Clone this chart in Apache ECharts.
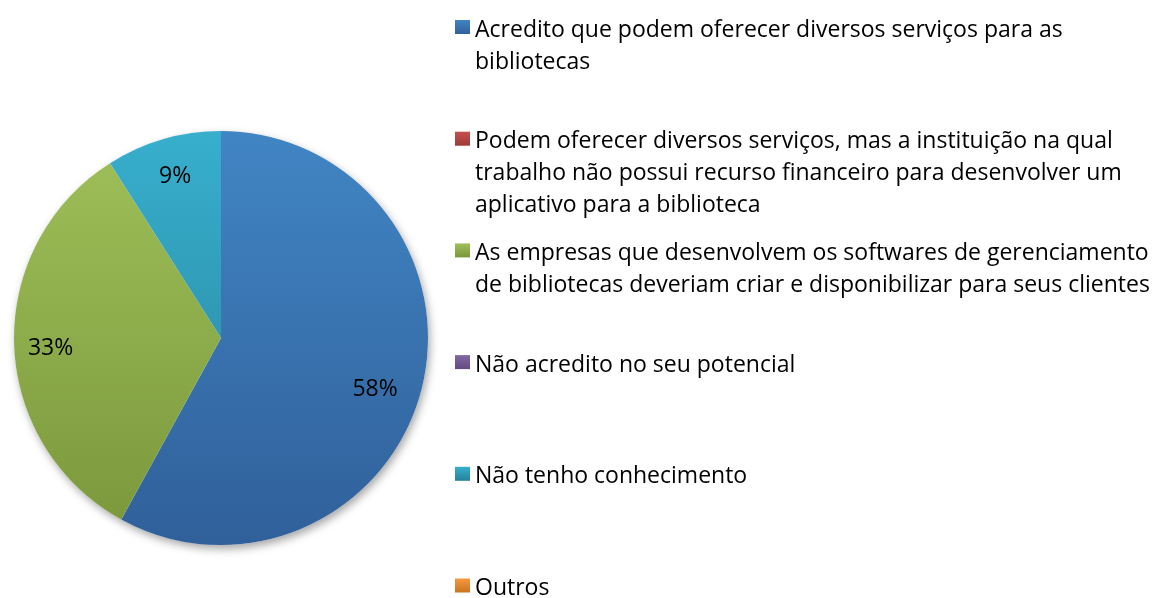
<!DOCTYPE html>
<html>
<head>
<meta charset="utf-8">
<style>html,body{margin:0;padding:0;width:1159px;height:598px;background:#fff;overflow:hidden;}#chart{width:1159px;height:598px;}</style>
<script src="https://cdn.jsdelivr.net/npm/echarts@6/dist/echarts.min.js"></script>
</head>
<body>
<div id="chart"></div>
<script>
// categories, values and the wrapped legend lines
var categories = [
  "Acredito que podem oferecer diversos serviços para as bibliotecas",
  "Podem oferecer diversos serviços, mas a instituição na qual trabalho não possui recurso financeiro para desenvolver um aplicativo para a biblioteca",
  "As empresas que desenvolvem os softwares de gerenciamento de bibliotecas deveriam criar e disponibilizar para seus clientes",
  "Não acredito no seu potencial",
  "Não tenho conhecimento",
  "Outros"
];
var values = [58, 0, 33, 0, 9, 0];
var legendLines = [
  ["Acredito que podem oferecer diversos serviços para as", "bibliotecas"],
  ["Podem oferecer diversos serviços, mas a instituição na qual", "trabalho não possui recurso financeiro para desenvolver um", "aplicativo para a biblioteca"],
  ["As empresas que desenvolvem os softwares de gerenciamento", "de bibliotecas deveriam criar e disponibilizar para seus clientes"],
  ["Não acredito no seu potencial"],
  ["Não tenho conhecimento"],
  ["Outros"]
];
var topColors = ["#4185c4", "#c5524f", "#9fc05a", "#8367a6", "#37afcd", "#f8973f"];
var bottomColors = ["#30609a", "#9c3a37", "#7a973b", "#634b82", "#27819a", "#c87520"];

var FONT = "Open Sans";
var FS = 23;
var LH = 32;
var SHIFT = 3; // text sits a little lower than the marker
var cx = 221, cy = 338, R = 207;

function pieGrad(i) {
  return {
    type: "linear", x: 0, y: cy - R, x2: 0, y2: cy + R, global: true,
    colorStops: [{ offset: 0, color: topColors[i] }, { offset: 1, color: bottomColors[i] }]
  };
}
function iconGrad(i) {
  return {
    type: "linear", x: 0, y: 0, x2: 0, y2: 1,
    colorStops: [{ offset: 0, color: topColors[i] }, { offset: 1, color: bottomColors[i] }]
  };
}

var pieData = categories.map(function (name, i) {
  return { name: name, value: values[i], itemStyle: { color: pieGrad(i) } };
});

// one legend per entry; filler lines in front keep the marker on the first line
var legends = categories.map(function (name, i) {
  var n = legendLines[i].length;
  var markerCenter = 27 + i * 111.7;
  var pad = "{g| }\n";
  for (var k = 1; k < n; k++) pad += "{p| }\n";
  return {
    orient: "vertical",
    left: 455,
    top: markerCenter - (2 * SHIFT + (2 * n - 1) * LH) / 2,
    padding: 0,
    itemWidth: 15,
    itemHeight: 14,
    icon: "rect",
    data: [{ name: name, itemStyle: { color: iconGrad(i) } }],
    formatter: function () { return pad + legendLines[i].join("\n"); },
    textStyle: {
      fontFamily: FONT, fontSize: FS, color: "#000", lineHeight: LH,
      rich: {
        g: { fontSize: 4, lineHeight: 2 * SHIFT },
        p: { fontSize: 4, lineHeight: LH }
      }
    }
  };
});

var labelNudge = [[-12, 9], [0, 0], [1, 5], [0, 0], [2, 3], [0, 0]];

var chart = echarts.init(document.getElementById("chart"));
chart.setOption({
  animation: false,
  backgroundColor: "#fff",
  legend: legends,
  series: [
    {
      // soft shadow under the whole pie
      type: "pie",
      silent: true,
      center: [cx, cy],
      radius: [0, R],
      z: 1,
      label: { show: false },
      labelLine: { show: false },
      data: [{ name: "_shadow", value: 1, itemStyle: { color: "#fff", shadowBlur: 8, shadowOffsetX: 2, shadowOffsetY: 4, shadowColor: "rgba(0,0,0,0.35)" } }]
    },
    {
      type: "pie",
      center: [cx, cy],
      radius: [0, R],
      startAngle: 90,
      clockwise: true,
      z: 2,
      label: { show: false },
      labelLine: { show: false },
      emphasis: { disabled: true },
      data: pieData
    },
    {
      // transparent ring only used to place the percent labels
      type: "pie",
      silent: true,
      center: [cx, cy],
      radius: [130, R],
      startAngle: 90,
      clockwise: true,
      z: 3,
      itemStyle: { color: "rgba(0,0,0,0)" },
      label: {
        show: true, position: "inside",
        fontFamily: FONT, fontSize: FS, color: "#000",
        formatter: function (p) { return p.value > 0 ? Math.round(p.percent) + "%" : ""; }
      },
      labelLayout: function (p) {
        return { dx: labelNudge[p.dataIndex][0], dy: labelNudge[p.dataIndex][1] };
      },
      labelLine: { show: false },
      data: categories.map(function (name, i) { return { name: name, value: values[i] }; })
    }
  ]
});
</script>
</body>
</html>
